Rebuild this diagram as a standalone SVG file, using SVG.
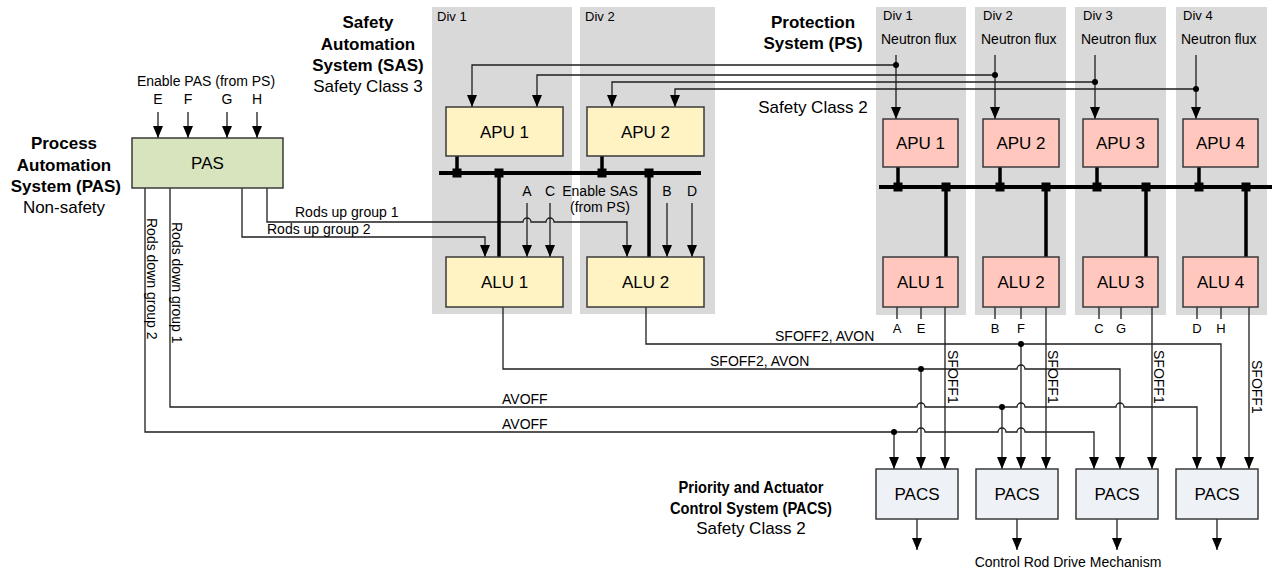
<svg xmlns="http://www.w3.org/2000/svg" width="1275" height="572" viewBox="0 0 1275 572">
<defs>
<marker id="arr" viewBox="0 0 12 10" refX="12" refY="5" markerWidth="12" markerHeight="10" markerUnits="userSpaceOnUse" orient="auto"><path d="M0,0 L12,5 L0,10 z" fill="#000"/></marker>
<style>
text{font-family:"Liberation Sans",Arial,sans-serif;fill:#000}
.t14{font-size:14px}
.t13{font-size:13px}
.mid{text-anchor:middle}
.box{font-size:17px;text-anchor:middle}
.title{font-size:17px;font-weight:bold;text-anchor:middle}
.sub{font-size:17px;text-anchor:middle}
.panel{fill:#D9D9D9}
.n rect{stroke:#3A3A3A;stroke-width:1.5}
.sas rect{fill:#FFF2C3}
.ps rect{fill:#FFC7BE}
.pas rect{fill:#D7E4BD}
.pacs rect{fill:#EEF1F6}
.c{fill:none;stroke:#1E1E1E;stroke-width:1.3}
.a{marker-end:url(#arr)}
.bus{stroke:#000;stroke-width:4;fill:none}
.stem{stroke:#000;stroke-width:3.5;fill:none}
.j{fill:#000}
</style>
</defs>
<rect width="1275" height="572" fill="#fff"/>

<g id="panels">
<rect class="panel" x="432" y="7" width="140" height="307"/>
<rect class="panel" x="580" y="7" width="135" height="307"/>
<rect class="panel" x="876" y="7" width="90" height="308"/>
<rect class="panel" x="975" y="7" width="91" height="308"/>
<rect class="panel" x="1075" y="7" width="91" height="308"/>
<rect class="panel" x="1176" y="7" width="91" height="308"/>
<text class="t13" x="437" y="21">Div 1</text>
<text class="t13" x="585" y="21">Div 2</text>
<text class="t13" x="883" y="20">Div 1</text>
<text class="t13" x="983" y="20">Div 2</text>
<text class="t13" x="1083" y="20">Div 3</text>
<text class="t13" x="1183" y="20">Div 4</text>
</g>

<g id="titles">
<text class="title" x="64" y="149">Process</text>
<text class="title" x="64" y="171">Automation</text>
<text class="title" x="121" y="192" style="text-anchor:end">System (PAS)</text>
<text class="sub" x="64" y="213">Non-safety</text>
<text class="title" x="368" y="28">Safety</text>
<text class="title" x="368" y="50">Automation</text>
<text class="title" x="368" y="71">System (SAS)</text>
<text class="sub" x="368" y="92">Safety Class 3</text>
<text class="title" x="813" y="28">Protection</text>
<text class="title" x="813" y="49">System (PS)</text>
<text class="sub" x="813" y="113">Safety Class 2</text>
<text class="title" x="751" y="493" textLength="145" lengthAdjust="spacingAndGlyphs">Priority and Actuator</text>
<text class="title" x="751" y="514" textLength="162" lengthAdjust="spacingAndGlyphs">Control System (PACS)</text>
<text class="sub" x="751" y="534">Safety Class 2</text>
</g>

<g id="connectors">
<g class="c a">
<path d="M158,112V138"/><path d="M188,112V138"/><path d="M227,112V138"/><path d="M257,112V138"/>
<path d="M267,188V222H523a4,4 0 0 1 8,0H546a4,4 0 0 1 8,0H627V257"/>
<path d="M242,188V237H485V257"/>
<path d="M527,203V257"/><path d="M550,203V257"/><path d="M667,203V257"/><path d="M692,203V257"/>
<path d="M896,65H472V107"/>
<path d="M995,75H537V107"/>
<path d="M1095,82H612V107"/>
<path d="M1196,89H675V107"/>
<path d="M896,55V119"/><path d="M995,55V119"/><path d="M1095,55V119"/><path d="M1196,55V119"/>
<path d="M945,307V469"/><path d="M1046,307V469"/><path d="M1152,307V469"/><path d="M1249,307V469"/>
<path d="M503,307V369H1017a4,4 0 0 1 8,0H1120V469"/>
<path d="M921,369V469"/>
<path d="M646,307V344H1221V469"/>
<path d="M1021,344V469"/>
<path d="M170,188V407H917a4,4 0 0 1 8,0H1017a4,4 0 0 1 8,0H1116a4,4 0 0 1 8,0H1197V469"/>
<path d="M1002,407V469"/>
<path d="M145,188V432H917a4,4 0 0 1 8,0H998a4,4 0 0 1 8,0H1017a4,4 0 0 1 8,0H1094V469"/>
<path d="M894,432V469"/>
<path d="M917,519V550"/><path d="M1017,519V550"/><path d="M1117,519V550"/><path d="M1217,519V550"/>
</g>
<g class="c">
<path d="M897,307V319M921,307V319M995,307V319M1021,307V319M1099,307V319M1121,307V319M1197,307V319M1221,307V319"/>
</g>
<g class="j">
<circle cx="896" cy="65" r="3"/><circle cx="995" cy="75" r="3"/><circle cx="1095" cy="82" r="3"/><circle cx="1196" cy="89" r="3"/>
<circle cx="921" cy="369" r="3"/><circle cx="1021" cy="344" r="3"/><circle cx="1002" cy="407" r="3"/><circle cx="894" cy="432" r="3"/>
</g>
<path class="bus" d="M439,173H701"/>
<path class="stem" d="M457,156V173M602,156V173M499,173V257M649,173V257"/>
<path class="bus" d="M879,187H1272"/>
<path class="stem" d="M898,167V187M1000,167V187M1097,167V187M1199,167V187M946,187V257M1046,187V257M1146,187V257M1246,187V257"/>
<g class="j">
<rect x="452.5" y="168.5" width="9" height="9"/><rect x="494.5" y="168.5" width="9" height="9"/>
<rect x="597.5" y="168.5" width="9" height="9"/><rect x="644.5" y="168.5" width="9" height="9"/>
<rect x="893.5" y="182.5" width="9" height="9"/><rect x="941.5" y="182.5" width="9" height="9"/>
<rect x="995.5" y="182.5" width="9" height="9"/><rect x="1041.5" y="182.5" width="9" height="9"/>
<rect x="1092.5" y="182.5" width="9" height="9"/><rect x="1141.5" y="182.5" width="9" height="9"/>
<rect x="1194.5" y="182.5" width="9" height="9"/><rect x="1241.5" y="182.5" width="9" height="9"/>
</g>
</g>

<g id="labels">
<text class="t14 mid" x="206" y="86">Enable PAS (from PS)</text>
<text class="t14 mid" x="158" y="104">E</text>
<text class="t14 mid" x="188" y="104">F</text>
<text class="t14 mid" x="227" y="104">G</text>
<text class="t14 mid" x="257" y="104">H</text>
<text class="t14" x="295" y="217">Rods up group 1</text>
<text class="t14" x="267" y="234">Rods up group 2</text>
<text class="t14" transform="translate(147,218) rotate(90)">Rods down group 2</text>
<text class="t14" transform="translate(172,222) rotate(90)">Rods down group 1</text>
<text class="t14 mid" x="527" y="196">A</text>
<text class="t14 mid" x="550" y="196">C</text>
<text class="t14 mid" x="667" y="196">B</text>
<text class="t14 mid" x="692" y="196">D</text>
<text class="t14 mid" x="600" y="196">Enable SAS</text>
<text class="t14 mid" x="600" y="212">(from PS)</text>
<text class="t14" x="881" y="44">Neutron flux</text>
<text class="t14" x="981" y="44">Neutron flux</text>
<text class="t14" x="1081" y="44">Neutron flux</text>
<text class="t14" x="1181" y="44">Neutron flux</text>
<text class="t13 mid" x="897" y="333">A</text>
<text class="t13 mid" x="921" y="333">E</text>
<text class="t13 mid" x="995" y="333">B</text>
<text class="t13 mid" x="1021" y="333">F</text>
<text class="t13 mid" x="1099" y="333">C</text>
<text class="t13 mid" x="1121" y="333">G</text>
<text class="t13 mid" x="1197" y="333">D</text>
<text class="t13 mid" x="1221" y="333">H</text>
<text class="t14" x="775" y="341">SFOFF2, AVON</text>
<text class="t14" x="710" y="366">SFOFF2, AVON</text>
<text class="t14" x="502" y="404">AVOFF</text>
<text class="t14" x="502" y="429">AVOFF</text>
<text class="t14" transform="translate(948,350) rotate(90)">SFOFF1</text>
<text class="t14" transform="translate(1048,350) rotate(90)">SFOFF1</text>
<text class="t14" transform="translate(1154,350) rotate(90)">SFOFF1</text>
<text class="t14" transform="translate(1252,360) rotate(90)">SFOFF1</text>
<text class="t14 mid" x="1068" y="567">Control Rod Drive Mechanism</text>
</g>

<g id="pas" class="n pas"><rect x="132" y="138" width="151" height="50"/><text class="box" x="207.5" y="169">PAS</text></g>
<g id="sas-apu1" class="n sas"><rect x="446" y="107" width="117" height="49"/><text class="box" x="504.5" y="137.5">APU 1</text></g>
<g id="sas-apu2" class="n sas"><rect x="587" y="107" width="117" height="49"/><text class="box" x="645.5" y="137.5">APU 2</text></g>
<g id="sas-alu1" class="n sas"><rect x="446" y="257" width="117" height="50"/><text class="box" x="504.5" y="288">ALU 1</text></g>
<g id="sas-alu2" class="n sas"><rect x="587" y="257" width="117" height="50"/><text class="box" x="645.5" y="288">ALU 2</text></g>
<g id="ps-apu1" class="n ps"><rect x="883" y="119" width="75" height="48"/><text class="box" x="920.5" y="149">APU 1</text></g>
<g id="ps-apu2" class="n ps"><rect x="983" y="119" width="76" height="48"/><text class="box" x="1021" y="149">APU 2</text></g>
<g id="ps-apu3" class="n ps"><rect x="1083" y="119" width="75" height="48"/><text class="box" x="1120.5" y="149">APU 3</text></g>
<g id="ps-apu4" class="n ps"><rect x="1183" y="119" width="75" height="48"/><text class="box" x="1220.5" y="149">APU 4</text></g>
<g id="ps-alu1" class="n ps"><rect x="883" y="257" width="75" height="50"/><text class="box" x="920.5" y="288">ALU 1</text></g>
<g id="ps-alu2" class="n ps"><rect x="983" y="257" width="76" height="50"/><text class="box" x="1021" y="288">ALU 2</text></g>
<g id="ps-alu3" class="n ps"><rect x="1083" y="257" width="75" height="50"/><text class="box" x="1120.5" y="288">ALU 3</text></g>
<g id="ps-alu4" class="n ps"><rect x="1183" y="257" width="75" height="50"/><text class="box" x="1220.5" y="288">ALU 4</text></g>
<g id="pacs1" class="n pacs"><rect x="876" y="469" width="82" height="50"/><text class="box" x="917" y="500">PACS</text></g>
<g id="pacs2" class="n pacs"><rect x="976" y="469" width="82" height="50"/><text class="box" x="1017" y="500">PACS</text></g>
<g id="pacs3" class="n pacs"><rect x="1076" y="469" width="82" height="50"/><text class="box" x="1117" y="500">PACS</text></g>
<g id="pacs4" class="n pacs"><rect x="1176" y="469" width="82" height="50"/><text class="box" x="1217" y="500">PACS</text></g>
</svg>
